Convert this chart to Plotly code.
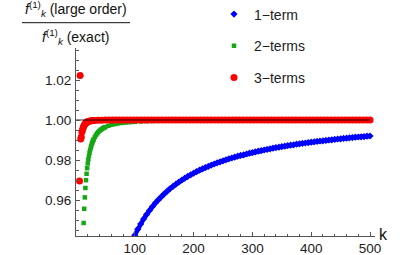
import plotly.graph_objects as go

FONT = "Liberation Sans, Arial, sans-serif"

# ---- data ----
k_one = list(range(100, 505, 5))
one_term = [
    0.9424, 0.9454, 0.9480, 0.9505, 0.9527, 0.9548, 0.9567, 0.9585, 0.9601, 0.9616,
    0.9631, 0.9644, 0.9657, 0.9668, 0.9679, 0.9690, 0.9700, 0.9709, 0.9718, 0.9726,
    0.9734, 0.9742, 0.9749, 0.9756, 0.9762, 0.9768, 0.9774, 0.9780, 0.9786, 0.9791,
    0.9796, 0.9801, 0.9806, 0.9810, 0.9814, 0.9819, 0.9823, 0.9826, 0.9830, 0.9834,
    0.9837, 0.9841, 0.9844, 0.9847, 0.9850, 0.9853, 0.9856, 0.9859, 0.9862, 0.9864,
    0.9867, 0.9869, 0.9872, 0.9874, 0.9876, 0.9879, 0.9881, 0.9883, 0.9885, 0.9887,
    0.9889, 0.9891, 0.9893, 0.9895, 0.9896, 0.9898, 0.9900, 0.9901, 0.9903, 0.9905,
    0.9906, 0.9908, 0.9909, 0.9911, 0.9912, 0.9914, 0.9915, 0.9916, 0.9917, 0.9919,
    0.9920,
]

k_two = (list(range(13, 31)) + list(range(32, 51, 2)) + list(range(55, 101, 5))
         + list(range(110, 501, 10)))
two_terms = [
    0.9485, 0.9556, 0.9613, 0.9660, 0.9699, 0.9731, 0.9759, 0.9783, 0.9803, 0.9820,
    0.9836, 0.9849, 0.9861, 0.9871, 0.9881, 0.9889, 0.9897, 0.9903,
    0.9915, 0.9925, 0.9933, 0.9940, 0.9946, 0.9951, 0.9955, 0.9959, 0.9962, 0.9965,
    0.9971, 0.9976, 0.9979, 0.9982, 0.9985, 0.9986, 0.9988, 0.9989, 0.9990, 0.9991,
    0.9993, 0.9994, 0.9995, 0.9996, 0.9996, 0.9997, 0.9997, 0.9997, 0.9998, 0.9998,
    0.9998, 0.9998, 0.9998, 0.9998, 0.9998, 0.9999, 0.9999, 0.9999, 0.9999, 0.9999,
    0.9999, 0.9999, 0.9999, 0.9999, 0.9999, 0.9999, 0.9999, 0.9999, 0.9999, 0.9999,
    0.9999, 0.9999, 0.9999, 0.9999, 0.9999, 0.9999, 0.9999, 0.9999, 0.9999, 0.9999,
]

k_three = list(range(6, 21)) + list(range(22, 31, 2)) + list(range(32, 501, 6))
three_terms = [
    0.9695, 1.0222, 0.9905, 0.9915, 0.9940, 0.9950, 0.9960, 0.9968, 0.9974, 0.9979,
    0.9983, 0.9986, 0.9988, 0.9990, 0.9992,
    0.9994, 0.9995, 0.9996, 0.9997, 0.9998,
    0.9998, 0.9999, 0.9999, 1.0000, 1.0000, 1.0000, 1.0000, 1.0000, 1.0000, 1.0000,
    1.0000, 1.0000, 1.0000, 1.0000, 1.0000, 1.0000, 1.0000, 1.0000, 1.0000, 1.0000,
    1.0000, 1.0000, 1.0000, 1.0000, 1.0000, 1.0000, 1.0000, 1.0000, 1.0000, 1.0000,
    1.0000, 1.0000, 1.0000, 1.0000, 1.0000, 1.0000, 1.0000, 1.0000, 1.0000, 1.0000,
    1.0000, 1.0000, 1.0000, 1.0000, 1.0000, 1.0000, 1.0000, 1.0000, 1.0000, 1.0000,
    1.0000, 1.0000, 1.0000, 1.0000, 1.0000, 1.0000, 1.0000, 1.0000, 1.0000, 1.0000,
    1.0000, 1.0000, 1.0000, 1.0000, 1.0000, 1.0000, 1.0000, 1.0000, 1.0000, 1.0000,
    1.0000, 1.0000, 1.0000, 1.0000, 1.0000, 1.0000, 1.0000, 1.0000, 1.0000,
]

ref_k = [0, 500]
ref_val = [1.0, 1.0]

series_names = ["1\u2212term", "2\u2212terms", "3\u2212terms"]
x_ticks = [100, 200, 300, 400, 500]
x_minor = [v for v in range(20, 501, 20) if v % 100 != 0]
y_ticks = [0.96, 0.98, 1.00, 1.02]
y_tick_text = ["0.96", "0.98", "1.00", "1.02"]
y_minor = [round(0.945 + 0.005 * i, 3) for i in range(19)]

BLUE, GREEN, RED = "#0000ff", "#14a814", "#ff0000"

# ---- figure ----
fig = go.Figure()
# dense band of the 1-term points (drawn as a thick stroke under the markers)
fig.add_trace(go.Scatter(x=k_one, y=one_term, mode="lines", showlegend=False,
                         hoverinfo="skip", line=dict(color=BLUE, width=4.4)))
fig.add_trace(go.Scatter(x=k_one, y=one_term, mode="markers", name=series_names[0],
                         legendgroup="a",
                         marker=dict(symbol="diamond", size=5.5, color=BLUE)))
fig.add_trace(go.Scatter(x=k_two, y=two_terms, mode="markers", name=series_names[1],
                         legendgroup="b",
                         marker=dict(symbol="square", size=4.5, color=GREEN)))
fig.add_trace(go.Scatter(x=k_three, y=three_terms, mode="markers", name=series_names[2],
                         legendgroup="c",
                         marker=dict(symbol="circle", size=7, color=RED)))
fig.add_trace(go.Scatter(x=ref_k, y=ref_val, mode="lines", showlegend=False,
                         hoverinfo="skip",
                         line=dict(color="rgba(0,0,0,0.85)", width=1.2)))

L, R, T, B = 76, 36, 48, 19
W, H = 411, 255
pw, ph = W - L - R, H - T - B


def px(x):
    return (x - L) / pw


def py(y):
    return (H - B - y) / ph


axis_common = dict(showline=True, linecolor="#555555", linewidth=1, ticks="inside",
                   ticklen=4, tickcolor="#555555", showgrid=False, zeroline=False,
                   tickfont=dict(family=FONT, size=13.5, color="#222222"))

fig.update_layout(
    width=W, height=H,
    margin=dict(l=L, r=R, t=T, b=B, pad=0, autoexpand=False),
    paper_bgcolor="white", plot_bgcolor="white",
    font=dict(family=FONT, color="#222222"),
    xaxis=dict(range=[0, 508.5], tickmode="array", tickvals=x_ticks,
               ticktext=[str(v) for v in x_ticks],
               minor=dict(tickmode="array", tickvals=x_minor, ticks="inside",
                          ticklen=2.5, tickcolor="#555555"),
               **axis_common),
    yaxis=dict(range=[0.942, 1.036], tickmode="array", tickvals=y_ticks,
               ticktext=y_tick_text, ticklabelstandoff=1,
               minor=dict(tickmode="array", tickvals=y_minor, ticks="inside",
                          ticklen=2.5, tickcolor="#555555"),
               **axis_common),
    legend=dict(x=px(214), y=py(-1.5), xanchor="left", yanchor="top",
                font=dict(family=FONT, size=14, color="#222222"),
                tracegroupgap=10.5, bgcolor="rgba(0,0,0,0)"),
    showlegend=True,
)

fig.add_annotation(text="<i>f</i><sup>(1)</sup><sub><i>k</i></sub> (large order)",
                   xref="paper", yref="paper", x=px(76), y=py(21),
                   xanchor="center", yanchor="bottom", showarrow=False,
                   font=dict(family=FONT, size=14, color="#111111"))
fig.add_annotation(text="<i>f</i><sup>(1)</sup><sub><i>k</i></sub> (exact)",
                   xref="paper", yref="paper", x=px(75), y=py(24.5),
                   xanchor="center", yanchor="top", showarrow=False,
                   font=dict(family=FONT, size=14, color="#111111"))
fig.add_shape(type="line", xref="paper", yref="paper",
              x0=px(22), x1=px(130), y0=py(22.7), y1=py(22.7),
              line=dict(color="#111111", width=1))
fig.add_annotation(text="k", xref="paper", yref="paper", x=px(383.5), y=py(234),
                   xanchor="center", yanchor="middle", showarrow=False,
                   font=dict(family=FONT, size=16, color="#111111"))

fig.write_html("out.html",
               config={"displayModeBar": False},
               post_script="document.body.style.margin='0';"
                           "document.body.style.padding='0';")
